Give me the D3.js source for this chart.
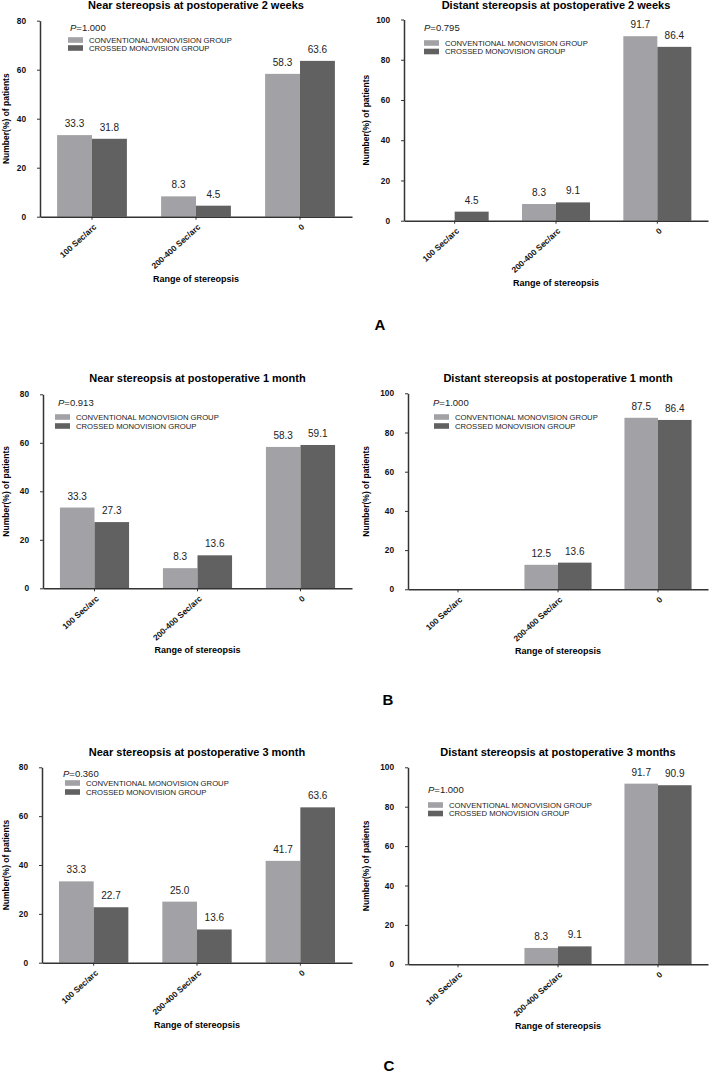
<!DOCTYPE html>
<html lang="en">
<head>
<meta charset="utf-8">
<title>Stereopsis after monovision</title>
<script src="https://d3js.org/d3.v7.min.js"></script>
<style>
body { margin: 0; background: #fff; }
svg { display: block; font-family: "Liberation Sans", Arial, sans-serif; }
.title { font-size: 11px; font-weight: bold; }
.axis-title { font-size: 9px; font-weight: bold; }
.ylab { font-size: 8.5px; font-weight: bold; }
.tick text { font-size: 8.3px; font-weight: bold; fill: #111; }
.val { font-size: 10px; fill: #222; }
.pval { font-size: 9.5px; fill: #222; }
.leg { font-size: 7.7px; fill: #222; }
.letter { font-size: 15px; font-weight: bold; }
</style>
</head>
<body>
<svg width="709" height="1075"></svg>
<script>
// categories and groups
const categories = ["100 Sec/arc", "200-400 Sec/arc", "0"];
const groupNames = ["CONVENTIONAL MONOVISION GROUP", "CROSSED MONOVISION GROUP"];

// values (%) per panel
const near2wConv = [33.3, 8.3, 58.3];
const near2wCross = [31.8, 4.5, 63.6];
const dist2wConv = [0, 8.3, 91.7];
const dist2wCross = [4.5, 9.1, 86.4];
const near1mConv = [33.3, 8.3, 58.3];
const near1mCross = [27.3, 13.6, 59.1];
const dist1mConv = [0, 12.5, 87.5];
const dist1mCross = [0, 13.6, 86.4];
const near3mConv = [33.3, 25.0, 41.7];
const near3mCross = [22.7, 13.6, 63.6];
const dist3mConv = [0, 8.3, 91.7];
const dist3mCross = [0, 9.1, 90.9];

const titles = [
  "Near stereopsis at postoperative 2 weeks",
  "Distant stereopsis at postoperative 2 weeks",
  "Near stereopsis at postoperative 1 month",
  "Distant stereopsis at postoperative 1 month",
  "Near stereopsis at postoperative 3 month",
  "Distant stereopsis at postoperative 3 months"
];
const pValues = ["1.000", "0.795", "0.913", "1.000", "0.360", "1.000"];
const yMaxes = [80, 100, 80, 100, 80, 100];
const yTickValues = [[0, 20, 40, 60, 80], [0, 20, 40, 60, 80, 100]];
const panelLetters = ["A", "B", "C"];

const convSets = [near2wConv, dist2wConv, near1mConv, dist1mConv, near3mConv, dist3mConv];
const crossSets = [near2wCross, dist2wCross, near1mCross, dist1mCross, near3mCross, dist3mCross];

// layout of each panel
const layout = [
  {ax: 40, x1: 352, y0: 216.7, yTop: 20.7, titleY: 9, pX: 70, pY: 30.5, legX: 68, legY: 40, legGap: 8, ylabX: 6},
  {ax: 404, x1: 708, y0: 220.7, yTop: 19.5, titleY: 9, pX: 424, pY: 30.5, legX: 424, legY: 43, legGap: 8.5, ylabX: 366},
  {ax: 43, x1: 352, y0: 588.3, yTop: 394.3, titleY: 382, pX: 58, pY: 405.5, legX: 55, legY: 417, legGap: 9, ylabX: 6},
  {ax: 408, x1: 708, y0: 589.3, yTop: 393.3, titleY: 382, pX: 433, pY: 405.5, legX: 434, legY: 417, legGap: 9, ylabX: 366},
  {ax: 42, x1: 352, y0: 962.7, yTop: 767.3, titleY: 756, pX: 63, pY: 776.5, legX: 65, legY: 783, legGap: 9, ylabX: 6},
  {ax: 408, x1: 708, y0: 964.3, yTop: 767.3, titleY: 756, pX: 428, pY: 792.5, legX: 428, legY: 805, legGap: 8.5, ylabX: 366}
];
const letterPos = [[380, 330], [388, 705], [389, 1071]];

const colors = ["#a2a2a6", "#616161"];
const svg = d3.select("svg");

layout.forEach((L, i) => {
  const g = svg.append("g");
  const xScale = d3.scaleBand().domain(categories).range([L.ax, L.x1]);
  const xSub = d3.scaleBand().domain([0, 1]).range([0, xScale.bandwidth()]).paddingOuter(0.49);
  const yScale = d3.scaleLinear().domain([0, yMaxes[i]]).range([L.y0, L.yTop]);

  const rows = categories.map((c, k) => ({cat: c, vals: [convSets[i][k], crossSets[i][k]]}));

  // bars
  const grp = g.selectAll(".grp")
    .data(rows)
    .enter()
    .append("g")
    .attr("transform", d => "translate(" + xScale(d.cat) + ",0)");

  grp.selectAll("rect")
    .data(d => d.vals.map((v, j) => ({v: v, j: j})))
    .enter()
    .append("rect")
    .attr("x", d => xSub(d.j))
    .attr("y", d => yScale(d.v))
    .attr("width", xSub.bandwidth())
    .attr("height", d => L.y0 - yScale(d.v))
    .attr("fill", d => colors[d.j]);

  grp.selectAll("text")
    .data(d => d.vals.map((v, j) => ({v: v, j: j})).filter(d => d.v > 0))
    .enter()
    .append("text")
    .attr("class", "val")
    .attr("x", d => xSub(d.j) + xSub.bandwidth() / 2)
    .attr("y", d => yScale(d.v) - 8)
    .attr("text-anchor", "middle")
    .text(d => d.v.toFixed(1));

  // y axis
  const yAxis = g.append("g")
    .attr("transform", "translate(" + L.ax + ",0)")
    .call(d3.axisLeft(yScale).tickValues(yTickValues[yMaxes[i] === 80 ? 0 : 1]).tickSize(3).tickSizeOuter(0));
  yAxis.select(".domain").attr("stroke", "#333").attr("stroke-width", 1.5);
  yAxis.selectAll(".tick line").attr("stroke", "#333");
  yAxis.selectAll(".tick text").attr("x", -14);

  // x axis
  const xAxis = g.append("g")
    .attr("transform", "translate(0," + L.y0 + ")")
    .call(d3.axisBottom(xScale).tickSize(3).tickSizeOuter(0));
  xAxis.select(".domain").attr("stroke", "#333").attr("stroke-width", 1.5);
  xAxis.selectAll(".tick line").attr("stroke", "#333");
  xAxis.selectAll(".tick text")
    .attr("text-anchor", "end")
    .attr("y", 0)
    .attr("dy", 0)
    .attr("transform", "translate(5,11) rotate(-42)");

  // titles
  g.append("text")
    .attr("class", "title")
    .attr("x", (L.ax + L.x1) / 2)
    .attr("y", L.titleY)
    .attr("text-anchor", "middle")
    .text(titles[i]);

  g.append("text")
    .attr("class", "axis-title")
    .attr("x", (L.ax + L.x1) / 2)
    .attr("y", L.y0 + 65)
    .attr("text-anchor", "middle")
    .text("Range of stereopsis");

  g.append("text")
    .attr("class", "ylab")
    .attr("transform", "translate(" + (L.ylabX + 3) + "," + ((L.y0 + L.yTop) / 2) + ") rotate(-90)")
    .attr("text-anchor", "middle")
    .text("Number(%) of patients");

  // p value
  const p = g.append("text")
    .attr("class", "pval")
    .attr("x", L.pX)
    .attr("y", L.pY);
  p.append("tspan").attr("font-style", "italic").text("P");
  p.append("tspan").text("=" + pValues[i]);

  // legend
  groupNames.forEach((name, j) => {
    const cy = L.legY + j * L.legGap;
    g.append("rect")
      .attr("x", L.legX)
      .attr("y", cy - 2.8)
      .attr("width", 15)
      .attr("height", 5.6)
      .attr("fill", colors[j]);
    g.append("text")
      .attr("class", "leg")
      .attr("x", L.legX + 21)
      .attr("y", cy + 2.8)
      .text(name);
  });
});

// panel letters
panelLetters.forEach((t, i) => {
  svg.append("text")
    .attr("class", "letter")
    .attr("x", letterPos[i][0])
    .attr("y", letterPos[i][1])
    .attr("text-anchor", "middle")
    .text(t);
});
</script>
</body>
</html>
